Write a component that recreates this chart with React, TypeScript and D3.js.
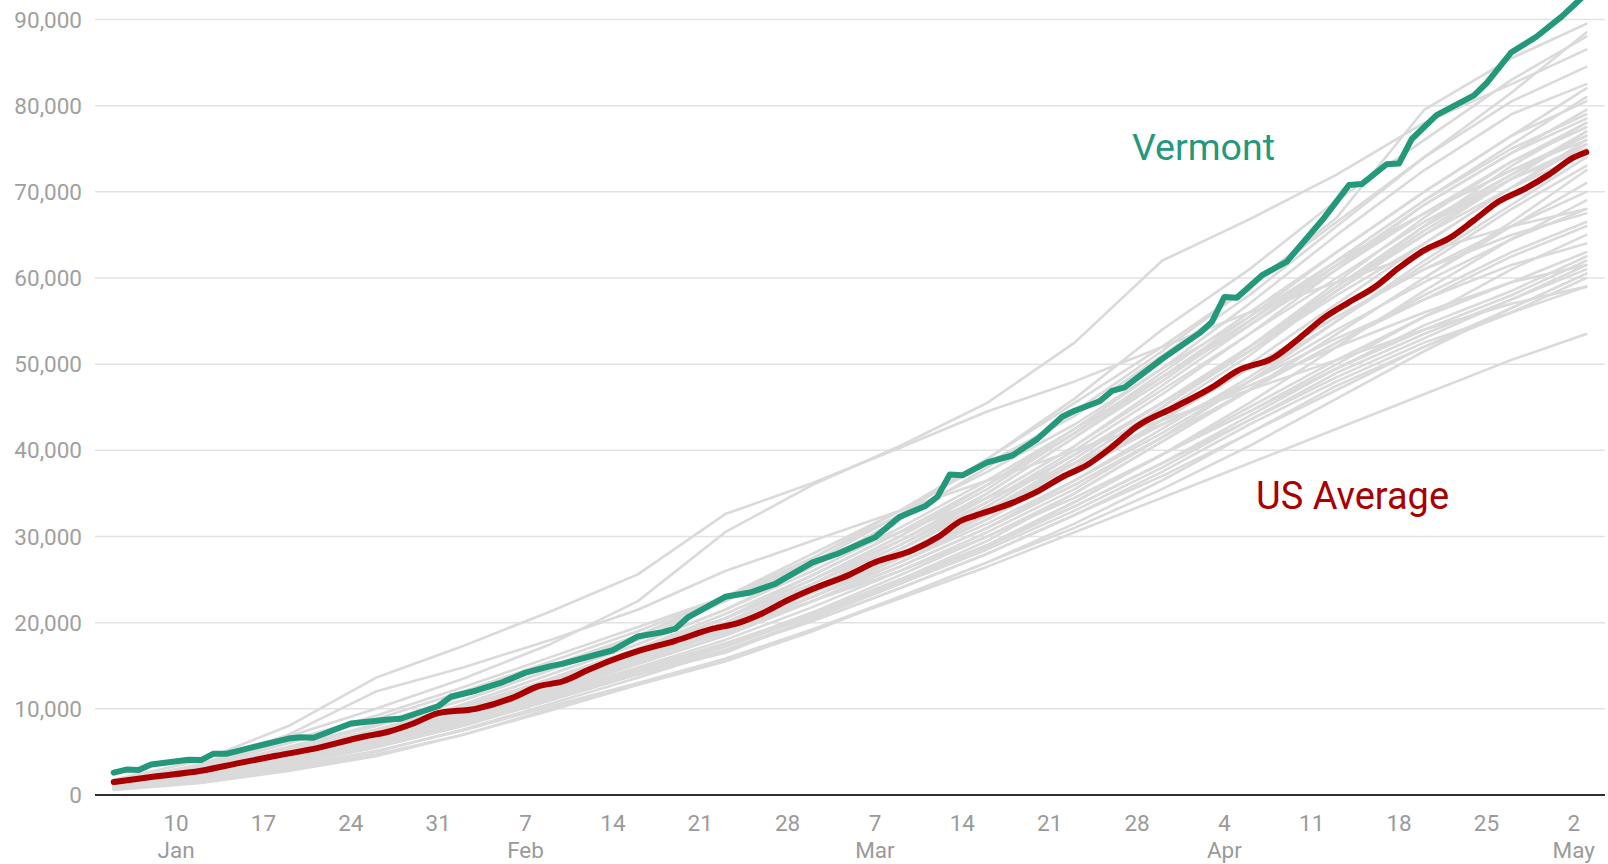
import React from "react";
import * as d3 from "d3";

// ---------- DATA ----------
const GRAY_DATES = [
  "2021-01-05", "2021-01-12", "2021-01-19", "2021-01-26", "2021-02-02", "2021-02-09",
  "2021-02-16", "2021-02-23", "2021-03-02", "2021-03-09", "2021-03-16", "2021-03-23",
  "2021-03-30", "2021-04-06", "2021-04-13", "2021-04-20", "2021-04-27", "2021-05-03",
];

// other states, values in thousands, read at GRAY_DATES
const STATES_K: number[][] = [
  [1.8, 4.0, 8.0, 13.6, 17.3, 21.3, 25.6, 32.6, 36.2, 40.3, 44.5, 48.0, 52.0, 56.0, 59.5, 63.0, 66.0, 68.0],
  [1.6, 3.5, 6.8, 10.0, 13.5, 17.5, 22.5, 30.5, 36.0, 40.5, 45.5, 52.5, 62.0, 66.8, 72.0, 78.0, 82.5, 86.5],
  [1.5, 3.6, 7.0, 12.0, 14.8, 18.0, 21.5, 26.0, 29.5, 33.0, 36.5, 40.0, 43.5, 47.0, 50.5, 54.0, 57.0, 59.0],
  [1.2, 3.0, 5.5, 8.0, 11.0, 14.5, 18.0, 22.5, 27.0, 32.5, 39.0, 46.0, 54.0, 61.0, 69.0, 76.0, 83.0, 88.0],
  [1.3, 3.1, 5.6, 8.2, 11.5, 15.0, 18.5, 23.0, 28.0, 33.0, 39.0, 45.5, 52.0, 59.0, 67.0, 79.5, 85.5, 89.5],
  [1.5, 3.2, 5.4, 8.0, 11.0, 14.5, 18.5, 22.5, 27.5, 33.0, 38.5, 44.0, 51.0, 58.0, 66.0, 74.0, 81.5, 88.5],
  [1.1, 2.6, 4.8, 7.2, 10.5, 14.0, 17.5, 21.5, 26.5, 32.0, 38.0, 44.5, 51.5, 59.0, 66.5, 74.0, 80.5, 84.5],
  [1.0, 2.4, 4.3, 6.5, 9.5, 13.0, 16.5, 20.5, 25.0, 30.0, 36.0, 42.5, 49.5, 57.0, 65.0, 72.5, 79.0, 82.5],
  [1.0, 2.5, 4.6, 6.8, 9.8, 13.2, 16.8, 20.5, 25.0, 30.0, 35.5, 42.0, 49.0, 56.0, 63.0, 70.0, 76.5, 80.5],
  [1.2, 2.8, 4.8, 7.0, 10.0, 13.5, 17.0, 20.5, 25.5, 30.5, 36.0, 42.0, 48.5, 55.0, 62.0, 69.0, 75.5, 81.0],
  [1.1, 2.6, 4.8, 7.0, 9.8, 13.0, 16.5, 20.0, 24.5, 29.5, 35.0, 41.5, 48.0, 55.0, 62.0, 69.0, 75.0, 79.0],
  [0.9, 2.2, 4.0, 6.2, 9.0, 12.5, 16.0, 19.5, 24.0, 29.0, 34.5, 40.5, 47.5, 54.5, 61.5, 68.5, 74.5, 78.5],
  [1.1, 2.6, 4.8, 7.0, 10.0, 13.5, 17.0, 21.0, 25.5, 30.5, 36.0, 42.0, 48.5, 54.5, 61.0, 67.5, 73.5, 77.5],
  [0.9, 2.2, 4.2, 6.5, 9.5, 13.0, 16.5, 20.0, 24.5, 29.5, 35.0, 41.5, 48.5, 55.5, 63.0, 70.0, 76.5, 82.0],
  [1.1, 2.6, 4.9, 7.5, 10.5, 14.0, 17.5, 21.5, 26.0, 31.0, 36.5, 42.5, 48.5, 55.0, 61.5, 67.5, 72.5, 76.0],
  [1.1, 2.5, 4.5, 6.8, 9.5, 12.5, 16.0, 19.5, 23.5, 28.5, 34.0, 40.0, 46.5, 53.5, 61.0, 68.5, 74.5, 79.5],
  [1.0, 2.4, 4.4, 6.5, 9.3, 12.5, 16.0, 19.5, 23.5, 28.0, 33.0, 38.5, 45.0, 52.0, 59.5, 67.0, 73.5, 78.0],
  [1.1, 2.6, 4.6, 6.8, 9.5, 12.8, 16.2, 19.8, 23.8, 28.5, 33.5, 39.5, 45.5, 52.0, 59.0, 66.0, 71.5, 75.5],
  [1.2, 2.8, 5.0, 7.2, 10.0, 13.2, 16.8, 20.5, 25.0, 29.5, 34.5, 40.5, 47.0, 53.5, 60.0, 66.5, 72.0, 76.5],
  [0.9, 2.1, 3.9, 6.0, 8.8, 12.0, 15.5, 19.0, 23.0, 27.5, 32.5, 38.5, 45.0, 51.5, 58.5, 65.5, 71.5, 75.0],
  [1.0, 2.4, 4.4, 6.6, 9.5, 12.8, 16.3, 20.0, 24.0, 28.5, 33.5, 39.5, 45.5, 52.0, 58.5, 65.0, 70.5, 74.5],
  [0.8, 2.0, 3.8, 6.0, 9.0, 12.2, 15.5, 19.0, 23.0, 27.5, 33.0, 39.0, 45.5, 52.0, 59.0, 66.0, 72.0, 77.0],
  [1.0, 2.4, 4.5, 6.8, 9.6, 12.8, 16.0, 19.5, 23.5, 27.5, 32.0, 37.5, 43.5, 49.5, 55.5, 61.0, 65.0, 67.5],
  [1.5, 3.3, 6.0, 8.8, 12.0, 15.5, 19.0, 23.0, 27.5, 32.5, 37.5, 43.0, 49.5, 55.5, 62.0, 67.5, 72.5, 76.5],
  [1.6, 3.5, 6.3, 9.2, 12.5, 16.0, 19.5, 23.0, 27.0, 30.5, 34.5, 38.5, 43.0, 47.5, 52.0, 56.0, 59.5, 61.5],
  [1.0, 2.5, 4.6, 7.0, 9.8, 13.0, 16.2, 19.5, 23.0, 27.0, 31.5, 36.5, 42.0, 48.0, 54.0, 59.5, 64.5, 68.0],
  [1.2, 2.8, 5.0, 7.4, 10.2, 13.5, 17.0, 20.5, 24.5, 29.0, 34.0, 39.5, 45.5, 51.5, 58.0, 64.0, 70.5, 75.5],
  [0.9, 2.1, 3.9, 6.2, 9.0, 12.2, 15.8, 19.5, 23.5, 28.0, 33.0, 38.5, 45.0, 51.5, 58.5, 65.0, 71.5, 77.0],
  [0.9, 2.1, 3.9, 6.0, 8.8, 12.0, 15.2, 18.5, 22.5, 26.5, 31.0, 36.0, 41.5, 47.0, 52.5, 58.0, 63.0, 66.5],
  [1.0, 2.3, 4.2, 6.4, 9.0, 12.0, 15.3, 18.5, 22.5, 26.5, 31.0, 36.5, 42.5, 48.5, 55.0, 61.5, 68.0, 73.0],
  [1.2, 2.8, 4.9, 7.1, 9.8, 13.0, 16.3, 19.8, 23.8, 28.0, 32.5, 37.5, 43.5, 49.5, 55.5, 61.0, 66.0, 70.0],
  [1.3, 2.9, 5.2, 7.6, 10.3, 13.2, 16.2, 19.2, 22.5, 26.0, 30.0, 34.5, 39.5, 44.5, 50.0, 55.5, 61.0, 65.0],
  [1.0, 2.5, 4.4, 6.5, 9.0, 11.8, 14.8, 18.0, 21.8, 26.0, 30.5, 35.5, 41.5, 48.0, 55.0, 62.0, 68.5, 74.0],
  [0.9, 2.2, 4.1, 6.3, 9.2, 12.5, 15.8, 19.0, 23.0, 27.5, 32.5, 38.0, 44.5, 51.0, 58.5, 66.0, 73.0, 78.0],
  [0.9, 2.1, 3.8, 5.8, 8.3, 11.2, 14.0, 16.5, 20.5, 24.5, 29.0, 34.0, 39.5, 45.5, 52.0, 58.5, 64.5, 69.0],
  [0.9, 2.2, 4.3, 6.8, 9.8, 12.8, 15.8, 18.8, 22.5, 26.5, 31.0, 36.0, 41.5, 47.0, 52.5, 57.5, 61.5, 64.0],
  [0.8, 1.9, 3.6, 5.6, 8.2, 11.2, 14.3, 17.5, 21.2, 25.5, 30.0, 35.0, 41.0, 47.0, 53.5, 60.0, 66.5, 72.5],
  [1.0, 2.4, 4.3, 6.3, 8.8, 11.5, 14.5, 17.5, 21.0, 25.0, 29.5, 35.0, 41.0, 47.0, 53.5, 60.0, 66.0, 71.0],
  [0.8, 1.9, 3.5, 5.5, 8.0, 11.0, 14.0, 17.2, 20.8, 24.8, 29.0, 34.0, 39.5, 45.0, 50.5, 55.5, 59.5, 63.0],
  [0.9, 2.2, 4.0, 6.1, 8.7, 11.6, 14.6, 17.6, 21.0, 24.8, 28.8, 33.5, 38.5, 44.0, 49.5, 54.5, 58.5, 62.5],
  [0.7, 1.7, 3.2, 5.0, 7.6, 10.6, 13.6, 16.8, 20.5, 24.5, 29.0, 34.0, 39.5, 44.5, 49.5, 54.0, 58.0, 62.0],
  [0.8, 1.9, 3.6, 5.6, 8.2, 11.2, 14.2, 17.2, 20.8, 24.5, 28.5, 33.0, 38.0, 43.5, 49.0, 53.5, 57.5, 61.0],
  [0.7, 1.6, 3.0, 4.7, 7.0, 9.8, 12.8, 15.8, 19.2, 23.0, 27.0, 31.5, 36.5, 42.0, 47.5, 52.0, 56.0, 60.0],
  [0.9, 2.0, 3.7, 5.7, 8.2, 11.0, 14.0, 16.8, 20.2, 24.0, 28.0, 32.5, 37.5, 43.0, 48.0, 52.5, 56.0, 59.0],
  [0.9, 2.2, 4.0, 6.0, 8.6, 11.5, 14.5, 17.5, 21.0, 25.0, 29.0, 33.5, 38.5, 43.5, 48.5, 53.0, 57.5, 61.5],
  [0.8, 1.8, 3.3, 5.1, 7.5, 10.3, 13.0, 15.8, 19.2, 22.8, 26.5, 30.5, 34.5, 38.5, 42.5, 46.5, 50.5, 53.5],
  [0.6, 1.4, 2.8, 4.5, 7.0, 10.0, 12.8, 15.5, 19.0, 23.0, 27.0, 31.0, 35.5, 40.5, 46.0, 51.5, 56.5, 60.5],
  [0.9, 2.1, 3.8, 5.8, 8.3, 11.2, 14.0, 16.8, 20.2, 24.0, 28.0, 32.5, 37.0, 42.0, 47.0, 52.0, 56.5, 60.5],
  [1.1, 2.6, 4.7, 7.0, 9.8, 13.0, 16.2, 19.5, 23.5, 28.0, 32.5, 37.5, 43.0, 48.0, 53.0, 57.5, 62.5, 66.0],
  [1.0, 2.4, 4.3, 6.4, 9.0, 12.0, 15.2, 18.5, 22.5, 27.0, 32.0, 37.5, 43.5, 50.0, 57.0, 64.0, 70.5, 76.0],
];

const VT_DATES = [
  "2021-01-05", "2021-01-06", "2021-01-07", "2021-01-08", "2021-01-11", "2021-01-12", "2021-01-13",
  "2021-01-14", "2021-01-16", "2021-01-19", "2021-01-20", "2021-01-21", "2021-01-24", "2021-01-27",
  "2021-01-28", "2021-01-31", "2021-02-01", "2021-02-03", "2021-02-05", "2021-02-07", "2021-02-09",
  "2021-02-10", "2021-02-14", "2021-02-16", "2021-02-18", "2021-02-19", "2021-02-20", "2021-02-23",
  "2021-02-25", "2021-02-27", "2021-03-02", "2021-03-04", "2021-03-07", "2021-03-09", "2021-03-11",
  "2021-03-12", "2021-03-13", "2021-03-14", "2021-03-16", "2021-03-18", "2021-03-20", "2021-03-22",
  "2021-03-23", "2021-03-25", "2021-03-26", "2021-03-27", "2021-03-30", "2021-04-02", "2021-04-03",
  "2021-04-04", "2021-04-05", "2021-04-07", "2021-04-09", "2021-04-12", "2021-04-14", "2021-04-15",
  "2021-04-17", "2021-04-18", "2021-04-19", "2021-04-21", "2021-04-24", "2021-04-25", "2021-04-27",
  "2021-04-29", "2021-05-01", "2021-05-03",
];
const VT_VALUES = [
  2600, 2950, 2900, 3550, 4100, 4050, 4800,
  4780, 5500, 6550, 6700, 6650, 8300, 8750,
  8850, 10300, 11400, 12100, 13000, 14200, 14950,
  15250, 16800, 18400, 18900, 19300, 20600, 23000,
  23500, 24500, 27000, 28000, 29900, 32300, 33500,
  34600, 37200, 37100, 38600, 39400, 41300, 43900,
  44600, 45700, 46900, 47300, 50600, 53600, 54900,
  57800, 57700, 60300, 61900, 67000, 70800, 70900,
  73200, 73300, 76100, 78900, 81200, 82600, 86200,
  88000, 90300, 93000,
];

const US_DATES = [
  "2021-01-05", "2021-01-08", "2021-01-12", "2021-01-15", "2021-01-18", "2021-01-21", "2021-01-25",
  "2021-01-27", "2021-01-29", "2021-01-31", "2021-02-03", "2021-02-06", "2021-02-08", "2021-02-10",
  "2021-02-12", "2021-02-14", "2021-02-16", "2021-02-19", "2021-02-22", "2021-02-24", "2021-02-26",
  "2021-02-28", "2021-03-02", "2021-03-05", "2021-03-07", "2021-03-10", "2021-03-12", "2021-03-14",
  "2021-03-15", "2021-03-18", "2021-03-20", "2021-03-22", "2021-03-24", "2021-03-26", "2021-03-28",
  "2021-03-31", "2021-04-03", "2021-04-05", "2021-04-08", "2021-04-10", "2021-04-12", "2021-04-14",
  "2021-04-16", "2021-04-18", "2021-04-20", "2021-04-22", "2021-04-24", "2021-04-26", "2021-04-28",
  "2021-04-30", "2021-05-02", "2021-05-03",
];
const US_VALUES = [
  1500, 2100, 2820, 3700, 4550, 5350, 6760,
  7340, 8300, 9500, 10000, 11300, 12600, 13200,
  14500, 15700, 16700, 17900, 19300, 19950, 21100,
  22600, 23900, 25600, 27000, 28400, 29900, 31900,
  32400, 33900, 35200, 36900, 38300, 40400, 42800,
  45000, 47300, 49200, 50800, 53000, 55400, 57200,
  58900, 61200, 63200, 64600, 66700, 68900, 70300,
  72000, 74000, 74600,
];

const Y_TICKS = [0, 10000, 20000, 30000, 40000, 50000, 60000, 70000, 80000, 90000];
const X_TICKS = [
  "2021-01-10", "2021-01-17", "2021-01-24", "2021-01-31", "2021-02-07", "2021-02-14",
  "2021-02-21", "2021-02-28", "2021-03-07", "2021-03-14", "2021-03-21", "2021-03-28",
  "2021-04-04", "2021-04-11", "2021-04-18", "2021-04-25", "2021-05-02",
];
const MONTH_TICKS = ["2021-01-10", "2021-02-07", "2021-03-07", "2021-04-04", "2021-05-02"];
const MONTH_NAMES = ["Jan", "Feb", "Mar", "Apr", "May"];

// ---------- CHART ----------
const W = 1608;
const H = 864;
const FONT = "Roboto, 'Noto Sans', sans-serif";
const GREEN = "#23987a";
const RED = "#a80000";

const parse = d3.utcParse("%Y-%m-%d");

export default function App() {
  const x = d3
    .scaleUtc()
    .domain([new Date(Date.UTC(2021, 0, 3, 12)), new Date(Date.UTC(2021, 4, 4, 12))])
    .range([95, 1605]);
  const y = d3.scaleLinear().domain([0, 90000]).range([795, 19.5]);

  type P = { d: Date; v: number };
  const line = d3
    .line<P>()
    .x((p) => x(p.d))
    .y((p) => y(p.v));
  const smooth = d3
    .line<P>()
    .x((p) => x(p.d))
    .y((p) => y(p.v))
    .curve(d3.curveMonotoneX);

  const grayDates = GRAY_DATES.map((s) => parse(s) as Date);
  const grayPaths = STATES_K.map((vals) =>
    line(vals.map((v, i) => ({ d: grayDates[i], v: v * 1000 })))
  );
  const vtPath = line(VT_DATES.map((s, i) => ({ d: parse(s) as Date, v: VT_VALUES[i] })));
  const usPath = smooth(US_DATES.map((s, i) => ({ d: parse(s) as Date, v: US_VALUES[i] })));
  const fmt = d3.format(",");

  return (
    <svg
      width={W}
      height={H}
      viewBox={`0 0 ${W} ${H}`}
      style={{ position: "fixed", left: 0, top: 0, background: "#fff" }}
    >
      <rect x={0} y={0} width={W} height={H} fill="#fff" />
      {Y_TICKS.filter((t) => t > 0).map((t) => (
        <line key={t} x1={95} x2={1605} y1={y(t)} y2={y(t)} stroke="#e2e2e2" strokeWidth={1.5} />
      ))}
      {Y_TICKS.map((t) => (
        <text
          key={"yl" + t}
          x={82}
          y={y(t)}
          dy="0.36em"
          textAnchor="end"
          fontFamily={FONT}
          fontSize={22.5}
          fill="#a0a0a0"
        >
          {fmt(t)}
        </text>
      ))}
      <g fill="none" stroke="#dadada" strokeWidth={2.6} strokeLinejoin="round" strokeLinecap="round">
        {grayPaths.map((p, i) => (
          <path key={i} d={p || ""} />
        ))}
      </g>
      <line x1={95} x2={1605} y1={y(0)} y2={y(0)} stroke="#2e2e2e" strokeWidth={2} />
      {X_TICKS.map((s) => {
        const d = parse(s) as Date;
        return (
          <text
            key={s}
            x={x(d)}
            y={831}
            textAnchor="middle"
            fontFamily={FONT}
            fontSize={22.5}
            fill="#9a9a9a"
          >
            {d.getUTCDate()}
          </text>
        );
      })}
      {MONTH_TICKS.map((s, i) => (
        <text
          key={"m" + s}
          x={x(parse(s) as Date)}
          y={858}
          textAnchor="middle"
          fontFamily={FONT}
          fontSize={22.5}
          fill="#9a9a9a"
        >
          {MONTH_NAMES[i]}
        </text>
      ))}
      <path d={vtPath || ""} fill="none" stroke={GREEN} strokeWidth={6} strokeLinejoin="round" strokeLinecap="round" />
      <path d={usPath || ""} fill="none" stroke={RED} strokeWidth={6} strokeLinejoin="round" strokeLinecap="round" />
      <text x={1132} y={160} fontFamily={FONT} fontSize={37.5} fill={GREEN}>
        Vermont
      </text>
      <text x={1256} y={509} fontFamily={FONT} fontSize={38} fill={RED}>
        US Average
      </text>
    </svg>
  );
}
